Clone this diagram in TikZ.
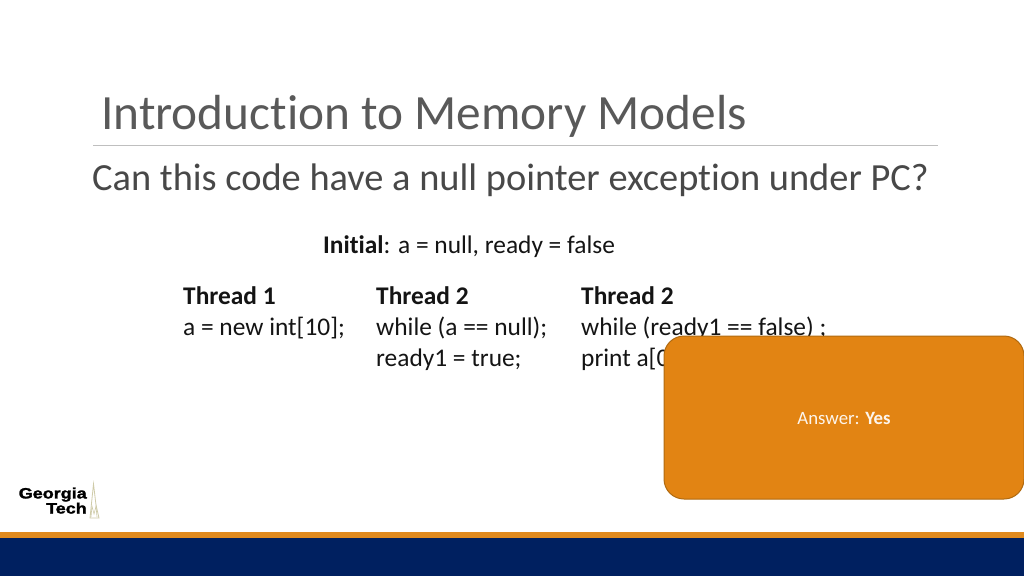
\documentclass[tikz,border=0pt]{standalone}
\usepackage{fontspec}
\setmainfont[Ligatures=NoCommon]{Carlito}
\newfontfamily\logofont[FakeBold=1.5]{Liberation Sans}
\definecolor{ttl}{HTML}{595959}
\definecolor{subc}{HTML}{484848}
\definecolor{orng}{HTML}{E28413}
\definecolor{orngd}{HTML}{B06A10}
\definecolor{navy}{HTML}{002060}
\definecolor{band}{HTML}{E08A1E}
\definecolor{spire}{HTML}{CFCBA8}
\tikzset{
  bodytext/.style={anchor=base west,inner sep=0pt,text=black!92,font=\fontsize{25.4}{30}\selectfont},
  logotext/.style={anchor=base east,inner sep=0pt,xscale=1.2,transform shape,align=right,font=\logofont\bfseries\fontsize{15}{12.5}\selectfont},
}
\begin{document}
\begin{tikzpicture}[x=1pt,y=-1pt]
\useasboundingbox (0,0) rectangle (1024,576);
\fill[white] (0,0) rectangle (1024,576);
\node[anchor=base west,inner sep=0pt,text=ttl,font=\fontsize{49.3}{54}\selectfont] (title) at (101,129) {Introduction to Memory Models};
\coordinate (ruleL) at (93,145.5);
\coordinate (ruleR) at (938,145.5);
\draw[black!25,line width=1pt] (ruleL) -- (ruleR);
\node[anchor=base west,inner sep=0pt,text=subc,font=\fontsize{38.4}{44}\selectfont] (sub) at (92,190.5) {Can this code have a null pointer exception under PC?};
\node[bodytext] (init) at (323,253.5) {\textbf{Initial}: a = null, ready = false};
\node[bodytext] (t1a) at (183,304.5) {\textbf{Thread 1}};
\node[bodytext] (t1b) at (183,335.5) {a = new int[10];};
\node[bodytext] (t2a) at (376,304.5) {\textbf{Thread 2}};
\node[bodytext] (t2b) at (376,335.5) {while (a == null);};
\node[bodytext] (t2c) at (376,366) {ready1 = true;};
\node[bodytext] (t3a) at (581,304.5) {\textbf{Thread 2}};
\node[bodytext] (t3b) at (581,335.5) {while (ready1 == false) ;};
\node[bodytext] (t3c) at (581,366) {print a[0];};
\draw[fill=orng,draw=orngd,line width=1pt,rounded corners=20pt] (664,336) rectangle (1024,499);
\node[text=white!92!orng,font=\fontsize{18.8}{22}\selectfont,inner sep=0pt] (ans) at (844,418) {Answer: \textbf{Yes}};
\fill[band] (0,532) rectangle (1024,538);
\fill[navy] (0,538) rectangle (1024,576);
\node[logotext] (gt) at (87,513.5) {Georgia\\Tech};
\draw[spire,line width=0.8pt,fill=white] (90,518) -- (93.5,484) -- (96,505) -- (99,518) -- cycle;
\draw[spire,line width=0.6pt] (91,517) -- (92,506) -- (94,514) -- (96,506) -- (97,517);
\end{tikzpicture}
\end{document}
